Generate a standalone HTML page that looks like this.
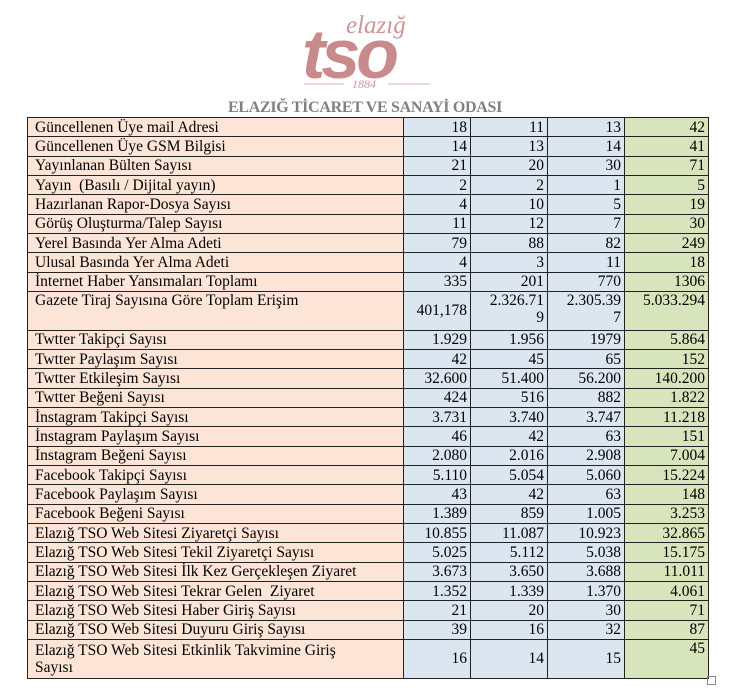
<!DOCTYPE html>
<html><head><meta charset="utf-8"><style>
body{margin:0;width:730px;height:691px;background:#fff;position:relative;overflow:hidden;font-family:"Liberation Serif",serif;}
.logo{position:absolute;}
.title{position:absolute;left:0;width:730px;top:99px;text-align:center;font-weight:bold;font-size:16px;color:#808080;letter-spacing:-0.3px;}
table{position:absolute;left:27px;top:117px;border-collapse:collapse;font-size:15.5px;color:#000;table-layout:fixed;}
td{border:1.3px solid #222;padding:0 3px;height:18.35px;line-height:17px;white-space:nowrap;overflow:hidden;}
td.l{background:#fce4d6;text-align:left;padding-left:7px;}
td.b{background:#dce6f1;text-align:right;}
td.g{background:#d8e4bc;text-align:right;}
tr.t td{height:37.5px;}
.sq{position:absolute;left:707px;top:676px;width:7px;height:7px;border:1px solid #888;}
</style></head><body>
<svg class="logo" viewBox="0 0 140 80" style="left:300px;top:10px;width:140px;height:80px">
<text x="46" y="23" font-family="Liberation Serif" font-style="italic" font-size="25" fill="#cf9598">elazığ</text>
<text x="2" y="68" font-family="Liberation Sans" font-weight="bold" font-style="italic" font-size="70" fill="#c98a8c" letter-spacing="-4">tso</text>
<line x1="4" y1="74" x2="44" y2="74" stroke="#d9b0b2" stroke-width="1"/>
<line x1="88" y1="74" x2="130" y2="74" stroke="#d9b0b2" stroke-width="1"/>
<text x="52" y="78" font-family="Liberation Serif" font-style="italic" font-size="12" fill="#cf9598">1884</text>
</svg>
<div class="title">ELAZIĞ TİCARET VE SANAYİ ODASI</div>
<table>
<colgroup><col style="width:376px"><col style="width:67px"><col style="width:77px"><col style="width:77px"><col style="width:84px"></colgroup>
<tr><td class="l">Güncellenen Üye mail Adresi</td><td class="b">18</td><td class="b">11</td><td class="b">13</td><td class="g">42</td></tr>
<tr><td class="l">Güncellenen Üye GSM Bilgisi</td><td class="b">14</td><td class="b">13</td><td class="b">14</td><td class="g">41</td></tr>
<tr><td class="l">Yayınlanan Bülten Sayısı</td><td class="b">21</td><td class="b">20</td><td class="b">30</td><td class="g">71</td></tr>
<tr><td class="l">Yayın&nbsp; (Basılı / Dijital yayın)</td><td class="b">2</td><td class="b">2</td><td class="b">1</td><td class="g">5</td></tr>
<tr><td class="l">Hazırlanan Rapor-Dosya Sayısı</td><td class="b">4</td><td class="b">10</td><td class="b">5</td><td class="g">19</td></tr>
<tr><td class="l">Görüş Oluşturma/Talep Sayısı</td><td class="b">11</td><td class="b">12</td><td class="b">7</td><td class="g">30</td></tr>
<tr><td class="l">Yerel Basında Yer Alma Adeti</td><td class="b">79</td><td class="b">88</td><td class="b">82</td><td class="g">249</td></tr>
<tr><td class="l">Ulusal Basında Yer Alma Adeti</td><td class="b">4</td><td class="b">3</td><td class="b">11</td><td class="g">18</td></tr>
<tr><td class="l">İnternet Haber Yansımaları Toplamı</td><td class="b">335</td><td class="b">201</td><td class="b">770</td><td class="g">1306</td></tr>
<tr class="t"><td class="l" style="vertical-align:top">Gazete Tiraj Sayısına Göre Toplam Erişim</td><td class="b">401,178</td><td class="b" style="vertical-align:top">2.326.71<br>9</td><td class="b" style="vertical-align:top">2.305.39<br>7</td><td class="g" style="vertical-align:top">5.033.294</td></tr>
<tr><td class="l">Twtter Takipçi Sayısı</td><td class="b">1.929</td><td class="b">1.956</td><td class="b">1979</td><td class="g">5.864</td></tr>
<tr><td class="l">Twtter Paylaşım Sayısı</td><td class="b">42</td><td class="b">45</td><td class="b">65</td><td class="g">152</td></tr>
<tr><td class="l">Twtter Etkileşim Sayısı</td><td class="b">32.600</td><td class="b">51.400</td><td class="b">56.200</td><td class="g">140.200</td></tr>
<tr><td class="l">Twtter Beğeni Sayısı</td><td class="b">424</td><td class="b">516</td><td class="b">882</td><td class="g">1.822</td></tr>
<tr><td class="l">İnstagram Takipçi Sayısı</td><td class="b">3.731</td><td class="b">3.740</td><td class="b">3.747</td><td class="g">11.218</td></tr>
<tr><td class="l">İnstagram Paylaşım Sayısı</td><td class="b">46</td><td class="b">42</td><td class="b">63</td><td class="g">151</td></tr>
<tr><td class="l">İnstagram Beğeni Sayısı</td><td class="b">2.080</td><td class="b">2.016</td><td class="b">2.908</td><td class="g">7.004</td></tr>
<tr><td class="l">Facebook Takipçi Sayısı</td><td class="b">5.110</td><td class="b">5.054</td><td class="b">5.060</td><td class="g">15.224</td></tr>
<tr><td class="l">Facebook Paylaşım Sayısı</td><td class="b">43</td><td class="b">42</td><td class="b">63</td><td class="g">148</td></tr>
<tr><td class="l">Facebook Beğeni Sayısı</td><td class="b">1.389</td><td class="b">859</td><td class="b">1.005</td><td class="g">3.253</td></tr>
<tr><td class="l">Elazığ TSO Web Sitesi Ziyaretçi Sayısı</td><td class="b">10.855</td><td class="b">11.087</td><td class="b">10.923</td><td class="g">32.865</td></tr>
<tr><td class="l">Elazığ TSO Web Sitesi Tekil Ziyaretçi Sayısı</td><td class="b">5.025</td><td class="b">5.112</td><td class="b">5.038</td><td class="g">15.175</td></tr>
<tr><td class="l">Elazığ TSO Web Sitesi İlk Kez Gerçekleşen Ziyaret</td><td class="b">3.673</td><td class="b">3.650</td><td class="b">3.688</td><td class="g">11.011</td></tr>
<tr><td class="l">Elazığ TSO Web Sitesi Tekrar Gelen&nbsp; Ziyaret</td><td class="b">1.352</td><td class="b">1.339</td><td class="b">1.370</td><td class="g">4.061</td></tr>
<tr><td class="l">Elazığ TSO Web Sitesi Haber Giriş Sayısı</td><td class="b">21</td><td class="b">20</td><td class="b">30</td><td class="g">71</td></tr>
<tr><td class="l">Elazığ TSO Web Sitesi Duyuru Giriş Sayısı</td><td class="b">39</td><td class="b">16</td><td class="b">32</td><td class="g">87</td></tr>
<tr class="t"><td class="l">Elazığ TSO Web Sitesi Etkinlik Takvimine Giriş<br>Sayısı</td><td class="b">16</td><td class="b">14</td><td class="b">15</td><td class="g" style="vertical-align:top">45</td></tr>
</table>
<div class="sq"></div>
</body></html>
